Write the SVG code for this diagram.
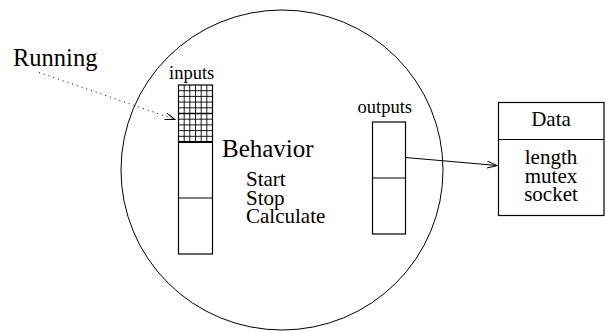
<svg xmlns="http://www.w3.org/2000/svg" width="606" height="331" viewBox="0 0 606 331">
<style>
.ln{fill:none;stroke:#000;stroke-width:1}
.bx{fill:#fff;stroke:#000;stroke-width:1.2}
.t{font-family:"Liberation Serif","Times New Roman",serif;fill:#000}
.g{stroke:#000;stroke-width:0.9}
</style>
<defs>
<marker id="ah" markerWidth="12" markerHeight="8" refX="10" refY="3.5" orient="auto" markerUnits="userSpaceOnUse">
<path d="M0,0 L10,3.5 L0,7" fill="none" stroke="#000" stroke-width="1"/>
</marker>
</defs>
<rect width="606" height="331" fill="#fff"/>
<g id="behavior">
<ellipse cx="282" cy="170" rx="161" ry="160" class="ln"/>
<text class="t" x="222" y="157" font-size="25">Behavior</text>
<text class="t" x="246" y="186" font-size="21">Start</text>
<text class="t" x="246" y="204.5" font-size="21">Stop</text>
<text class="t" x="246" y="223" font-size="21">Calculate</text>
</g>
<g id="inputs">
<text class="t" x="169" y="78.5" font-size="18.5">inputs</text>
<rect x="178.5" y="85" width="34" height="169" class="bx"/>
<g class="g">
<line x1="184.2" y1="85" x2="184.2" y2="142"/>
<line x1="189.8" y1="85" x2="189.8" y2="142"/>
<line x1="195.5" y1="85" x2="195.5" y2="142"/>
<line x1="201.2" y1="85" x2="201.2" y2="142"/>
<line x1="206.8" y1="85" x2="206.8" y2="142"/>
<line x1="178.5" y1="90.7" x2="212.5" y2="90.7"/>
<line x1="178.5" y1="96.4" x2="212.5" y2="96.4"/>
<line x1="178.5" y1="102.1" x2="212.5" y2="102.1"/>
<line x1="178.5" y1="107.8" x2="212.5" y2="107.8"/>
<line x1="178.5" y1="113.5" x2="212.5" y2="113.5" stroke-width="1.6"/>
<line x1="178.5" y1="119.2" x2="212.5" y2="119.2"/>
<line x1="178.5" y1="124.9" x2="212.5" y2="124.9"/>
<line x1="178.5" y1="130.6" x2="212.5" y2="130.6"/>
<line x1="178.5" y1="136.3" x2="212.5" y2="136.3"/>
<line x1="178.5" y1="142" x2="212.5" y2="142" stroke-width="1.8"/>
</g>
<line x1="178.5" y1="198" x2="212.5" y2="198" class="ln" stroke-width="1.2"/>
</g>
<g id="outputs">
<text class="t" x="357.5" y="113" font-size="18.5">outputs</text>
<rect x="372.5" y="122" width="33" height="112" class="bx"/>
<line x1="372.5" y1="178" x2="405.5" y2="178" class="ln" stroke-width="1.2"/>
</g>
<g id="data">
<rect x="498.5" y="102.5" width="105.5" height="113" class="bx"/>
<line x1="498.5" y1="139.5" x2="604" y2="139.5" class="ln" stroke-width="1.2"/>
<text class="t" x="551" y="126" font-size="21" text-anchor="middle">Data</text>
<text class="t" x="551" y="164" font-size="21" text-anchor="middle">length</text>
<text class="t" x="551" y="182.5" font-size="21" text-anchor="middle">mutex</text>
<text class="t" x="551" y="201" font-size="21" text-anchor="middle">socket</text>
</g>
<g id="running">
<text class="t" x="13" y="66" font-size="24.5">Running</text>
</g>
<g id="connectors">
<line x1="39" y1="72.5" x2="175" y2="119.5" class="ln" stroke-dasharray="1 4" marker-end="url(#ah)"/>
<line x1="405.5" y1="157.5" x2="497" y2="165.5" class="ln" marker-end="url(#ah)"/>
</g>
</svg>
